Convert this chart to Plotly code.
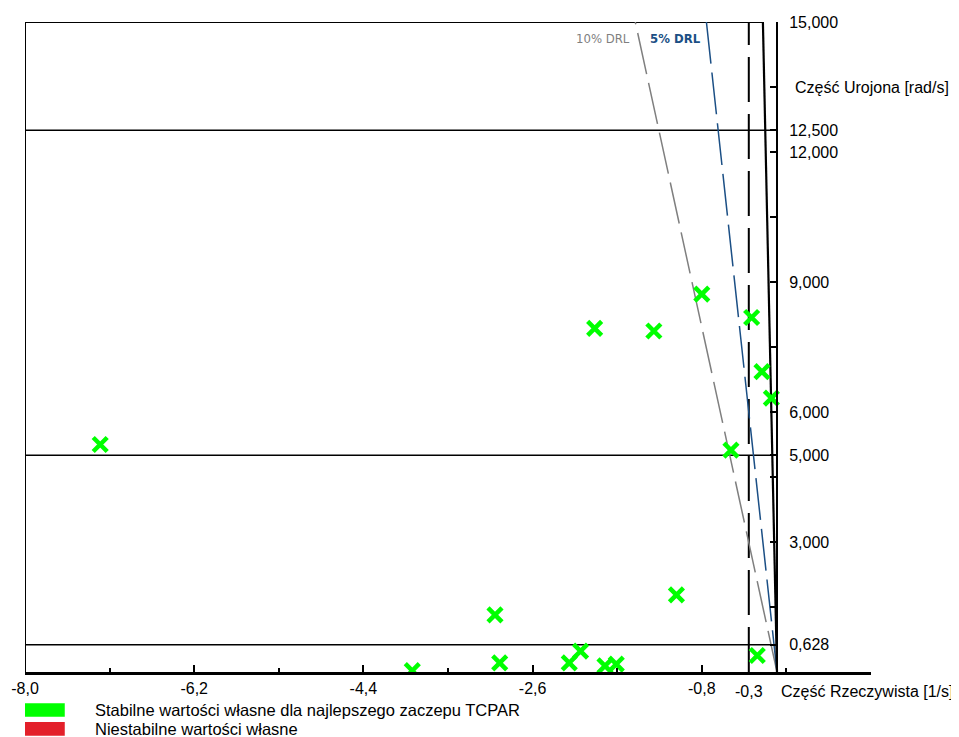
import plotly.graph_objects as go
import math

# ---- data ----
re_vals = [-7.20, -3.88, -3.00, -2.95, -2.21, -2.09, -1.83, -1.71,
           -1.94, -1.31, -1.07, -0.80, -0.49, -0.27, -0.16, -0.06, -0.21]
im_vals = [5.25, 0.03, 1.32, 0.21, 0.21, 0.48, 0.14, 0.18,
           7.93, 7.87, 1.78, 8.72, 5.12, 8.18, 6.93, 6.32, 0.38]

h_levels = [12.5, 5.0, 0.628]
top_level = 15.0
x_min, x_max = -8.0, 1.0
y_min, y_max = 0.0, 15.0
limit_re = -0.3
drl_ratios = [0.10, 0.05, 0.01]
drl_colors = ["#7f7f7f", "#1b4f85", "#000000"]
drl_dash = ["42px,9px", "42px,9px", "solid"]
drl_widths = [1.5, 1.5, 2.2]
drl_labels = ["10% DRL", "<b>5% DRL</b>", ""]

x_major = [-8.0, -6.2, -4.4, -2.6, -0.8, 1.0]
x_ticklabels = ["-8,0", "-6,2", "-4,4", "-2,6", "-0,8", ""]
x_minor = [-7.1, -5.3, -3.5, -1.7, 0.1]
x_extra_vals = [-0.3]
x_extra_text = ["-0,3"]

y_tickvals = [15, 12.5, 12, 9, 6, 5, 3, 0.628]
y_ticktext = ["15,000", "12,500", "12,000", "9,000", "6,000", "5,000", "3,000", "0,628"]
y_minor = [1.5, 4.5, 7.5, 10.5, 13.5]

legend_items = ["Stabilne wartości własne dla najlepszego zaczepu TCPAR",
                "Niestabilne wartości własne"]
legend_colors = ["#00ff00", "#e3202a"]

FONT = "Liberation Sans, Arial, sans-serif"
NARROW = "Liberation Sans Narrow, DejaVu Sans Condensed, sans-serif"

fig = go.Figure()

def drl_x(z, w):
    return -z * w / math.sqrt(1 - z * z)

# top border ends at the 1% line
top_end = drl_x(drl_ratios[-1], top_level)

# horizontal lines
for hl in h_levels:
    fig.add_trace(go.Scatter(x=[x_min, 0], y=[hl, hl], mode="lines",
                             line=dict(color="black", width=1.5),
                             showlegend=False, hoverinfo="skip"))
fig.add_trace(go.Scatter(x=[x_min, top_end], y=[top_level, top_level], mode="lines",
                         line=dict(color="black", width=2),
                         showlegend=False, hoverinfo="skip"))
# left border
fig.add_trace(go.Scatter(x=[x_min, x_min], y=[y_min, top_level], mode="lines",
                         line=dict(color="black", width=2),
                         showlegend=False, hoverinfo="skip"))
# -0.3 limit dashed
fig.add_trace(go.Scatter(x=[limit_re, limit_re], y=[y_min, top_level], mode="lines",
                         line=dict(color="black", width=2, dash="45px,12px"),
                         showlegend=False, hoverinfo="skip"))
# DRL lines
for z, c, d, wd in zip(drl_ratios, drl_colors, drl_dash, drl_widths):
    fig.add_trace(go.Scatter(x=[0, drl_x(z, top_level)], y=[0, top_level], mode="lines",
                             line=dict(color=c, width=wd, dash=d),
                             showlegend=False, hoverinfo="skip"))

# eigenvalues
fig.add_trace(go.Scatter(x=re_vals, y=im_vals, mode="markers",
                         marker=dict(symbol="x-thin", size=14, color="#00ff00",
                                     line=dict(color="#00ff00", width=4.5)),
                         showlegend=False))

# DRL labels
for z, c, lab in zip(drl_ratios, drl_colors, drl_labels):
    if lab:
        fig.add_annotation(x=drl_x(z, top_level), y=top_level, xref="x", yref="y",
                           text=lab, showarrow=False, xanchor="right", yanchor="top",
                           xshift=-3, yshift=-7,
                           font=dict(family=NARROW, size=13, color=c))

# x extra tick labels
for v, t in zip(x_extra_vals, x_extra_text):
    fig.add_annotation(x=v, y=0, xref="x", yref="y", text=t, showarrow=False,
                       yanchor="top", yshift=-9, font=dict(family=FONT, size=16, color="black"))

# axis titles
fig.add_annotation(x=0, y=0, xref="x", yref="y", text="Część Rzeczywista [1/s]",
                   showarrow=False, xanchor="left", yanchor="top", xshift=2, yshift=-9,
                   font=dict(family=FONT, size=16, color="black"))
fig.add_annotation(x=0, y=13.5, xref="x", yref="y", text="Część Urojona [rad/s]",
                   showarrow=False, xanchor="left", yanchor="middle", xshift=16,
                   font=dict(family=FONT, size=16, color="black"))

# legend (manual)
for i, (lab, col) in enumerate(zip(legend_items, legend_colors)):
    y0 = -0.048 - i * 0.029
    fig.add_shape(type="rect", xref="paper", yref="paper",
                  x0=0.0, x1=0.047, y0=y0 - 0.021, y1=y0,
                  fillcolor=col, line=dict(width=0))
    fig.add_annotation(xref="paper", yref="paper", x=0.08, y=y0 - 0.0105,
                       text=lab, showarrow=False, xanchor="left", yanchor="middle",
                       font=dict(family=FONT, size=16.5, color="black"))

fig.update_layout(
    width=951, height=729,
    margin=dict(l=17, r=88, t=14, b=65),
    plot_bgcolor="white", paper_bgcolor="white",
    font=dict(family=FONT, size=16, color="black"),
    xaxis=dict(range=[x_min, x_max], showgrid=False, zeroline=False, automargin=False,
               showline=True, linecolor="black", linewidth=2.5,
               ticks="inside", ticklen=7, tickwidth=1.5, tickcolor="black",
               tickvals=x_major, ticktext=x_ticklabels,
               minor=dict(tickvals=x_minor, ticks="inside", ticklen=4, tickwidth=1.5,
                          tickcolor="black"),
               tickfont=dict(family=FONT, size=16)),
    yaxis=dict(range=[y_min, y_max], showgrid=False, zeroline=False, automargin=False,
               anchor="free", position=8 / 9, side="right",
               showline=True, linecolor="black", linewidth=2,
               ticks="inside", ticklen=6, tickwidth=1.5, tickcolor="black",
               tickvals=y_tickvals, ticktext=y_ticktext,
               minor=dict(tickvals=y_minor, ticks="inside", ticklen=6, tickwidth=1.5,
                          tickcolor="black"),
               ticklabelstandoff=8,
               tickfont=dict(family=FONT, size=16)),
)

fig.write_html("out.html")
